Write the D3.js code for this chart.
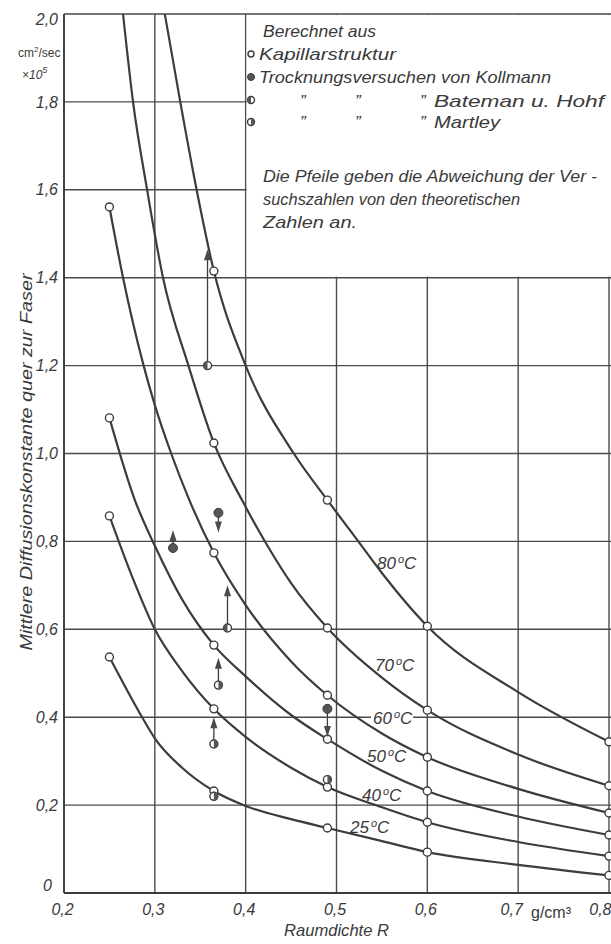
<!DOCTYPE html>
<html><head><meta charset="utf-8">
<script src="https://cdn.jsdelivr.net/npm/d3@7"></script>
<style>
body{margin:0;background:#fff}
svg{display:block}
text{font-family:"Liberation Sans",Arial,sans-serif;font-style:italic;fill:#3a3a3a}
</style>
</head><body>
<svg id="c" width="611" height="944"></svg>
<script>
// ---------- data ----------
const xTickValues = [0.2, 0.3, 0.4, 0.5, 0.6, 0.7, 0.8];
const xTickLabels = ["0,2", "0,3", "0,4", "0,5", "0,6", "0,7", "0,8"];
const yTickValues = [0, 0.2, 0.4, 0.6, 0.8, 1.0, 1.2, 1.4, 1.6, 1.8, 2.0];
const yTickLabels = ["0", "0,2", "0,4", "0,6", "0,8", "1,0", "1,2", "1,4", "1,6", "1,8", "2,0"];

const curveNames = ["25°C", "40°C", "50°C", "60°C", "70°C", "80°C"];
const curve25 = [[0.25,0.537],[0.286,0.40],[0.3,0.352],[0.33,0.285],[0.365,0.232],[0.4,0.198],[0.45,0.168],[0.49,0.148],[0.55,0.118],[0.6,0.093],[0.7,0.064],[0.8,0.04]];
const curve40 = [[0.25,0.858],[0.275,0.72],[0.3,0.60],[0.33,0.505],[0.365,0.419],[0.4,0.355],[0.45,0.285],[0.49,0.241],[0.55,0.195],[0.6,0.161],[0.7,0.116],[0.8,0.084]];
const curve50 = [[0.25,1.081],[0.278,0.894],[0.3,0.79],[0.33,0.668],[0.365,0.564],[0.4,0.493],[0.45,0.405],[0.49,0.35],[0.55,0.278],[0.6,0.232],[0.7,0.174],[0.8,0.132]];
const curve60 = [[0.25,1.561],[0.265,1.40],[0.287,1.205],[0.3,1.11],[0.318,1.0],[0.338,0.894],[0.365,0.774],[0.4,0.655],[0.45,0.527],[0.49,0.45],[0.55,0.363],[0.6,0.309],[0.7,0.237],[0.8,0.182]];
const curve70 = [[0.265,2.0],[0.276,1.8],[0.2915,1.6],[0.309,1.4],[0.337,1.2],[0.365,1.024],[0.397,0.89],[0.424,0.79],[0.45,0.705],[0.49,0.603],[0.55,0.49],[0.6,0.416],[0.7,0.315],[0.8,0.244]];
const curve80 = [[0.311,2.0],[0.328,1.8],[0.346,1.6],[0.365,1.415],[0.40,1.2],[0.453,1.0],[0.49,0.894],[0.524,0.8],[0.55,0.728],[0.6,0.607],[0.7,0.457],[0.8,0.344]];
const curves = [curve25, curve40, curve50, curve60, curve70, curve80];

// theoretical points (Kapillarstruktur)
const theoR = [0.25, 0.365, 0.49, 0.6, 0.8];
const theo25 = [0.537, 0.232, 0.148, 0.093, 0.04];
const theo40 = [0.858, 0.419, 0.241, 0.161, 0.084];
const theo50 = [1.081, 0.564, 0.35, 0.232, 0.132];
const theo60 = [1.561, 0.774, 0.45, 0.309, 0.182];
const theo70 = [null, 1.024, 0.603, 0.416, 0.244];
const theo80 = [null, 1.415, 0.894, 0.607, 0.344];
const theoAll = [theo25, theo40, theo50, theo60, theo70, theo80];

// experimental points: K = Kollmann, B = Bateman u. Hohf, M = Martley
const expType = ["B", "K", "K", "B", "M", "M", "M", "K", "M"];
const expR    = [0.358, 0.37, 0.32, 0.38, 0.37, 0.365, 0.365, 0.49, 0.49];
const expD    = [1.20, 0.865, 0.785, 0.603, 0.473, 0.339, 0.22, 0.419, 0.258];
const expTo   = [1.465, 0.82, 0.826, 0.70, 0.535, 0.40, null, 0.355, null];

// ---------- layout ----------
const svg = d3.select("#c");
const ink = "#3c3c3c";
const x = d3.scaleLinear().domain([0.2, 0.8]).range([64, 609]);
const y = d3.scaleLinear().domain([0, 2.0]).range([893, 14]);

// grid
const g = svg.append("g").attr("stroke", "#4a4a4a").attr("stroke-width", 1.4);
xTickValues.forEach(v => {
  g.append("line").attr("x1", x(v)).attr("x2", x(v)).attr("y1", y(0)).attr("y2", y(2.0));
});
yTickValues.forEach(v => {
  g.append("line").attr("x1", x(0.2)).attr("x2", 611).attr("y1", y(v)).attr("y2", y(v));
});
// legend box (blanks the grid inside)
svg.append("rect").attr("x", x(0.4) + 1).attr("y", y(2.0) + 1)
  .attr("width", 611 - x(0.4)).attr("height", y(1.4) - y(2.0) - 2).attr("fill", "#fff");
// axes lines heavier
svg.append("line").attr("x1", x(0.2)).attr("x2", 611).attr("y1", y(0)).attr("y2", y(0))
  .attr("stroke", ink).attr("stroke-width", 2);
svg.append("line").attr("x1", x(0.2)).attr("x2", x(0.2)).attr("y1", y(0)).attr("y2", y(2.0))
  .attr("stroke", ink).attr("stroke-width", 1.8);

// curves
const line = d3.line().x(d => x(d[0])).y(d => y(d[1])).curve(d3.curveMonotoneX);
curves.forEach(c => {
  svg.append("path").attr("d", line(c)).attr("fill", "none")
    .attr("stroke", ink).attr("stroke-width", 2.2);
});

// curve labels
const labelPos = [[350, 833], [362, 801], [367, 762], [373, 724], [375, 671], [377, 569]];
curveNames.forEach((n, i) => {
  if (i === 3) {
    svg.append("rect").attr("x", labelPos[i][0] - 2).attr("y", labelPos[i][1] - 15)
      .attr("width", 42).attr("height", 17).attr("fill", "#fff");
  }
  const t = svg.append("text").attr("x", labelPos[i][0]).attr("y", labelPos[i][1])
    .attr("font-size", 17);
  t.append("tspan").text(n.slice(0, 2));
  t.append("tspan").attr("font-size", 11).attr("dy", -6).attr("dx", 2).text("o");
  t.append("tspan").attr("dy", 6).text("C");
});

// markers
function marker(cx, cy, type, r) {
  if (type === "O") {
    svg.append("circle").attr("cx", cx).attr("cy", cy).attr("r", r)
      .attr("fill", "#fff").attr("stroke", ink).attr("stroke-width", 1.4);
  } else if (type === "K") {
    svg.append("circle").attr("cx", cx).attr("cy", cy).attr("r", r + 0.5)
      .attr("fill", "#555").attr("stroke", ink).attr("stroke-width", 1);
  } else {
    svg.append("circle").attr("cx", cx).attr("cy", cy).attr("r", r)
      .attr("fill", "#fff").attr("stroke", ink).attr("stroke-width", 1.4);
    const a = type === "B" ? [Math.PI, 2 * Math.PI] : [0, Math.PI];
    svg.append("path").attr("transform", `translate(${cx},${cy})`)
      .attr("d", d3.arc()({innerRadius: 0, outerRadius: r, startAngle: a[0], endAngle: a[1]}))
      .attr("fill", "#555");
  }
}
theoAll.forEach(arr => arr.forEach((v, i) => {
  if (v !== null) marker(x(theoR[i]), y(v), "O", 4);
}));
// arrows
expD.forEach((v, i) => {
  const cx = x(expR[i]), cy = y(v);
  if (expTo[i] !== null) {
    const ty = y(expTo[i]);
    const dir = ty < cy ? -1 : 1;
    svg.append("line").attr("x1", cx).attr("x2", cx).attr("y1", cy + dir * 4).attr("y2", ty - dir * 9)
      .attr("stroke", ink).attr("stroke-width", 1.3);
    svg.append("path").attr("d", `M${cx},${ty} L${cx - 3.5},${ty - dir * 11} L${cx + 3.5},${ty - dir * 11} Z`)
      .attr("fill", "#4a4a4a");
  }
  marker(cx, cy, expType[i], 4);
});

// axis tick labels
const ya = svg.append("g").attr("transform", `translate(${x(0.2)},0)`)
  .call(d3.axisLeft(y).tickValues(yTickValues).tickFormat((d, i) => yTickLabels[i]).tickSize(0).tickPadding(6));
ya.select(".domain").remove();
ya.selectAll("text").attr("font-size", 16).attr("font-family", null).style("font-style", "italic").attr("fill", "#3a3a3a")
  .attr("transform", (d) => d === 2.0 ? "translate(0,5)" : d === 0 ? "translate(-6,-8)" : null);

const xa = svg.append("g").attr("transform", `translate(0,${y(0)})`)
  .call(d3.axisBottom(x).tickValues(xTickValues).tickFormat((d, i) => xTickLabels[i]).tickSize(0).tickPadding(11));
xa.select(".domain").remove();
xa.selectAll("text").attr("font-size", 16).attr("font-family", null).style("font-style", "italic").attr("fill", "#3a3a3a")
  .attr("text-anchor", d => d === 0.8 ? "end" : "middle")
  .attr("transform", (d) => d === 0.7 ? "translate(-7,0)" : d === 0.8 ? "translate(2,0)" : "translate(-2,0)");

svg.append("text").attr("x", 531).attr("y", 918).attr("font-size", 16).style("font-style", "normal")
  .text("g/cm³");

// axis titles
svg.append("text").attr("x", x(0.5)).attr("y", 936).attr("text-anchor", "middle")
  .attr("font-size", 17).attr("textLength", 105).attr("lengthAdjust", "spacingAndGlyphs")
  .text("Raumdichte R");
svg.append("text").attr("transform", "translate(32,462) rotate(-90)").attr("text-anchor", "middle")
  .attr("font-size", 17).attr("textLength", 377).attr("lengthAdjust", "spacingAndGlyphs")
  .text("Mittlere Diffusionskonstante quer zur Faser");

// unit
const u1 = svg.append("text").attr("x", 18).attr("y", 57).attr("font-size", 12).style("font-style", "normal");
u1.append("tspan").text("cm");
u1.append("tspan").attr("font-size", 8).attr("dy", -5).text("2");
u1.append("tspan").attr("dy", 5).text("/sec");
const u2 = svg.append("text").attr("x", 22).attr("y", 79).attr("font-size", 12);
u2.append("tspan").text("×10");
u2.append("tspan").attr("font-size", 9).attr("dy", -6).text("5");

// legend texts
const legendLines = [
  ["Berechnet aus", 263, 37, 113],
  ["Kapillarstruktur", 259, 60, 137],
  ["Trocknungsversuchen von Kollmann", 259, 83, 292],
  ["Bateman u. Hohf", 434, 107, 170],
  ["Martley", 434, 128, 66],
  ["Die Pfeile geben die Abweichung der Ver -", 263, 182, 334],
  ["suchszahlen von den theoretischen", 263, 205, 257],
  ["Zahlen an.", 263, 228, 94]
];
legendLines.forEach(l => {
  svg.append("text").attr("x", l[1]).attr("y", l[2]).attr("font-size", 17)
    .attr("textLength", l[3]).attr("lengthAdjust", "spacingAndGlyphs").text(l[0]);
});
// ditto marks
[[300, 107], [355, 107], [420, 107], [300, 128], [355, 128], [420, 128]].forEach(p => {
  svg.append("text").attr("x", p[0]).attr("y", p[1]).attr("font-size", 17).text("”");
});
marker(251, 54, "O", 3);
marker(251, 77, "K", 3);
marker(251, 100, "B", 3.5);
marker(251, 122, "M", 3.5);
</script>
</body></html>
